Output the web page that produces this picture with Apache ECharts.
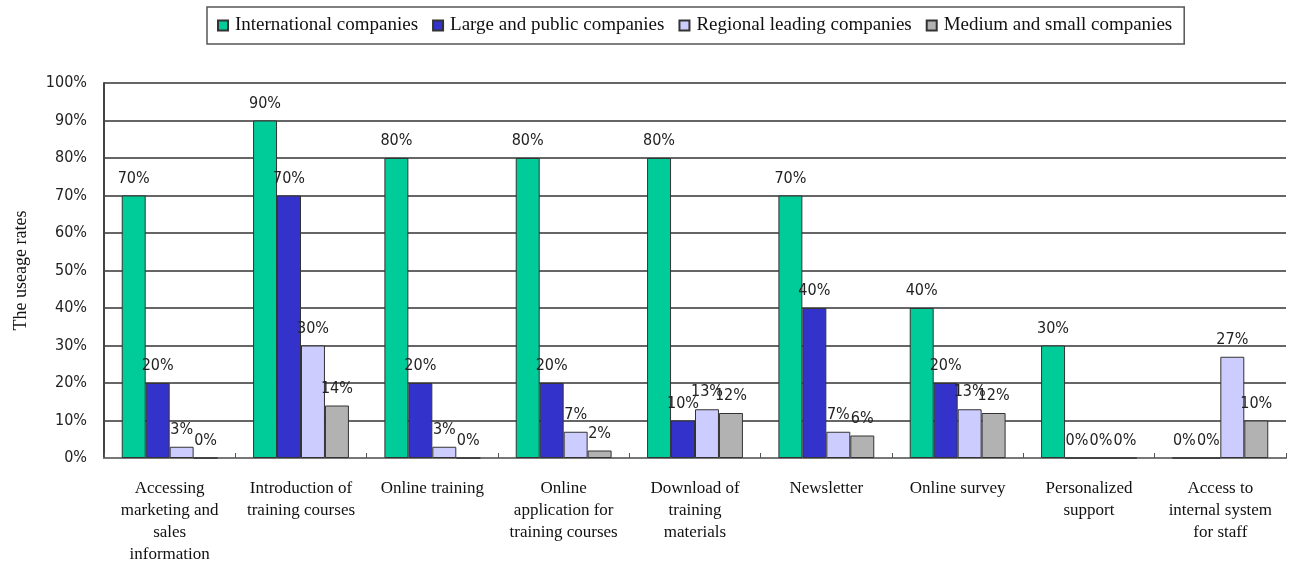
<!DOCTYPE html>
<html>
<head>
<meta charset="utf-8">
<script src="https://cdn.jsdelivr.net/npm/echarts@6/dist/echarts.min.js"></script>
<style>
  html, body { margin: 0; padding: 0; background: #fff; }
  #chart { width: 1294px; height: 577px; }
</style>
</head>
<body>
<div id="chart"></div>
<script>
// Usage rates of web functions by company type (percent)
const categories = [
  'Accessing\nmarketing and\nsales\ninformation',
  'Introduction of\ntraining courses',
  'Online training',
  'Online\napplication for\ntraining courses',
  'Download of\ntraining\nmaterials',
  'Newsletter',
  'Online survey',
  'Personalized\nsupport',
  'Access to\ninternal system\nfor staff'
];
const seriesNames = [
  'International companies',
  'Large and public companies',
  'Regional leading companies',
  'Medium and small companies'
];
const international = [70, 90, 80, 80, 80, 70, 40, 30, 0];
const largePublic   = [20, 70, 20, 20, 10, 40, 20, 0, 0];
const regional      = [3, 30, 3, 7, 13, 7, 13, 0, 27];
const mediumSmall   = [0, 14, 0, 2, 12, 6, 12, 0, 10];
const yTicks = { min: 0, max: 100, interval: 10 };

const colors = ['#00CC99', '#3333CC', '#CCCCFF', '#B2B2B2'];
const numFont = "'DejaVu Sans Condensed', 'DejaVu Sans', sans-serif";
const textFont = "'Liberation Serif', 'DejaVu Serif', serif";

function barSeries(name, data, color) {
  return {
    name: name,
    type: 'bar',
    data: data,
    barGap: '0%',
    barCategoryGap: '27%',
    itemStyle: { color: color, borderColor: '#333', borderWidth: 1 },
    label: {
      show: true,
      position: 'top',
      distance: 9,
      formatter: '{c}%',
      fontFamily: numFont,
      fontSize: 16,
      color: '#222'
    }
  };
}

const chart = echarts.init(document.getElementById('chart'), null, { renderer: 'canvas' });
chart.setOption({
  animation: false,
  backgroundColor: '#fff',
  legend: {
    top: 7,
    left: 207,
    padding: [9, 12, 9, 10],
    borderColor: '#555',
    borderWidth: 1.5,
    itemWidth: 10,
    itemHeight: 10,
    itemGap: 14,
    icon: 'rect',
    textStyle: { fontFamily: textFont, fontSize: 19, color: '#111', padding: [0, 0, 0, 2] },
    data: seriesNames
  },
  grid: { left: 104, right: 8, top: 83, bottom: 119, containLabel: false },
  xAxis: {
    type: 'category',
    data: categories,
    boundaryGap: true,
    axisLine: { show: true, lineStyle: { color: '#777', width: 2 } },
    axisTick: { show: true, inside: true, length: 5, lineStyle: { color: '#555' } },
    axisLabel: {
      interval: 0,
      margin: 20,
      fontFamily: textFont,
      fontSize: 17,
      lineHeight: 22,
      color: '#111',
      align: 'center'
    }
  },
  yAxis: {
    type: 'value',
    min: yTicks.min,
    max: yTicks.max,
    interval: yTicks.interval,
    name: 'The useage rates',
    nameLocation: 'middle',
    nameGap: 74,
    nameTextStyle: { fontFamily: textFont, fontSize: 18, color: '#111' },
    axisLine: { show: true, lineStyle: { color: '#444', width: 2 } },
    axisTick: { show: false },
    axisLabel: {
      formatter: '{value}%',
      margin: 17,
      fontFamily: numFont,
      fontSize: 16,
      color: '#222'
    },
    splitLine: { show: true, lineStyle: { color: '#666', width: 2 } }
  },
  series: [
    barSeries(seriesNames[0], international, colors[0]),
    barSeries(seriesNames[1], largePublic, colors[1]),
    barSeries(seriesNames[2], regional, colors[2]),
    barSeries(seriesNames[3], mediumSmall, colors[3])
  ]
});
</script>
</body>
</html>
